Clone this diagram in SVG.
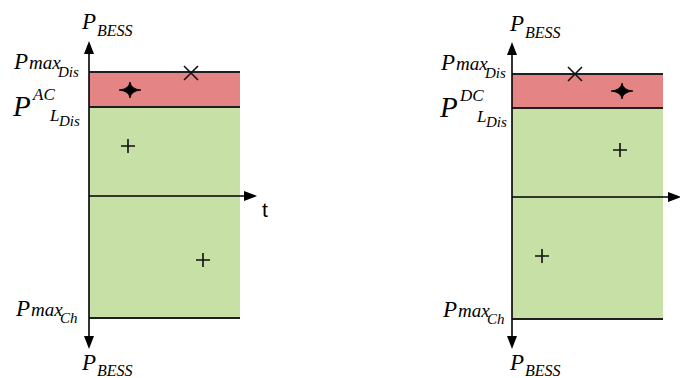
<svg xmlns="http://www.w3.org/2000/svg" width="680" height="378" viewBox="0 0 680 378">
  <style>
    .red { fill: #e58484; }
    .green { fill: #c7e0a6; }
    .edge { stroke: #1f1f1f; stroke-width: 2; fill: none; }
    .axis { stroke: #000; stroke-width: 1.6; fill: none; }
    .head { fill: #000; }
    .mk { stroke: #111; stroke-width: 1.6; fill: none; }
    .lbl { font-family: "Liberation Serif", "DejaVu Serif", serif; font-style: italic; fill: #000; }
    .t { font-family: "Liberation Sans", Arial, sans-serif; fill: #000; }
  </style>
  <defs>
    <path id="star" d="M -11 0 Q -1 -1 0 -8 Q 1 -1 11 0 Q 1 1 0 8 Q -1 1 -11 0 Z" fill="#000" stroke="#000" stroke-width="0.8"/>
    <path id="cross" class="mk" d="M -7 -7 L 7 7 M 7 -7 L -7 7"/>
    <path id="plus" class="mk" d="M -7 0 L 7 0 M 0 -7 L 0 7"/>
  </defs>

  <!-- AC-side operating area -->
  <g id="ac-panel">
    <rect class="red" x="89" y="72" width="151" height="35"/>
    <rect class="green" x="89" y="107" width="151" height="211"/>
    <line class="edge" x1="89" y1="72" x2="240" y2="72"/>
    <line class="edge" x1="89" y1="107" x2="240" y2="107"/>
    <line class="edge" x1="89" y1="318" x2="240" y2="318"/>
  </g>
  <g id="ac-markers">
    <use href="#cross" x="191" y="73"/>
    <use href="#star" x="130" y="90"/>
    <use href="#plus" x="128" y="146"/>
    <use href="#plus" x="203" y="260"/>
  </g>
  <g id="ac-labels">
    <text class="lbl" font-size="23"><tspan x="82" y="29">P</tspan><tspan x="97" y="36" font-size="16">BESS</tspan></text>
    <text class="lbl" font-size="23"><tspan x="14" y="69">P</tspan><tspan x="29" y="69" font-size="19">max</tspan><tspan x="58" y="77" font-size="15">Dis</tspan></text>
    <text class="lbl" font-size="29"><tspan x="13" y="116">P</tspan><tspan x="33" y="100" font-size="17">AC</tspan><tspan x="50" y="121" font-size="17">L</tspan><tspan x="59" y="126" font-size="15">Dis</tspan></text>
    <text class="lbl" font-size="23"><tspan x="16" y="316">P</tspan><tspan x="31" y="316" font-size="19">max</tspan><tspan x="60" y="323" font-size="15">Ch</tspan></text>
    <text class="lbl" font-size="23"><tspan x="82" y="370">P</tspan><tspan x="97" y="376" font-size="16">BESS</tspan></text>
    <text class="t" x="262" y="217" font-size="21">t</text>
  </g>

  <!-- DC-side operating area -->
  <g id="dc-panel">
    <rect class="red" x="512" y="74" width="151" height="34"/>
    <rect class="green" x="512" y="108" width="151" height="211"/>
    <line class="edge" x1="512" y1="74" x2="663" y2="74"/>
    <line class="edge" x1="512" y1="108" x2="663" y2="108"/>
    <line class="edge" x1="512" y1="319" x2="663" y2="319"/>
  </g>
  <g id="dc-markers">
    <use href="#cross" x="575" y="74"/>
    <use href="#star" x="622" y="91"/>
    <use href="#plus" x="620" y="150"/>
    <use href="#plus" x="542" y="256"/>
  </g>
  <g id="dc-labels">
    <text class="lbl" font-size="23"><tspan x="510" y="31">P</tspan><tspan x="525" y="38" font-size="16">BESS</tspan></text>
    <text class="lbl" font-size="23"><tspan x="441" y="70">P</tspan><tspan x="456" y="70" font-size="19">max</tspan><tspan x="485" y="78" font-size="15">Dis</tspan></text>
    <text class="lbl" font-size="29"><tspan x="440" y="117">P</tspan><tspan x="460" y="101" font-size="17">DC</tspan><tspan x="477" y="122" font-size="17">L</tspan><tspan x="486" y="127" font-size="15">Dis</tspan></text>
    <text class="lbl" font-size="23"><tspan x="443" y="317">P</tspan><tspan x="458" y="317" font-size="19">max</tspan><tspan x="487" y="324" font-size="15">Ch</tspan></text>
    <text class="lbl" font-size="23"><tspan x="510" y="370">P</tspan><tspan x="525" y="376" font-size="16">BESS</tspan></text>
  </g>

  <!-- axes -->
  <g id="connectors">
    <line class="axis" x1="89" y1="52" x2="89" y2="338"/>
    <path class="head" d="M 89 41 L 84 54 L 94 54 Z"/>
    <path class="head" d="M 89 349 L 84 336 L 94 336 Z"/>
    <line class="axis" x1="89" y1="196" x2="246" y2="196"/>
    <path class="head" d="M 257 196 L 244 191 L 244 201 Z"/>

    <line class="axis" x1="512" y1="53" x2="512" y2="338"/>
    <path class="head" d="M 512 42 L 507 55 L 517 55 Z"/>
    <path class="head" d="M 512 349 L 507 336 L 517 336 Z"/>
    <line class="axis" x1="512" y1="197" x2="670" y2="197"/>
    <path class="head" d="M 681 197 L 668 192 L 668 202 Z"/>
  </g>
</svg>
